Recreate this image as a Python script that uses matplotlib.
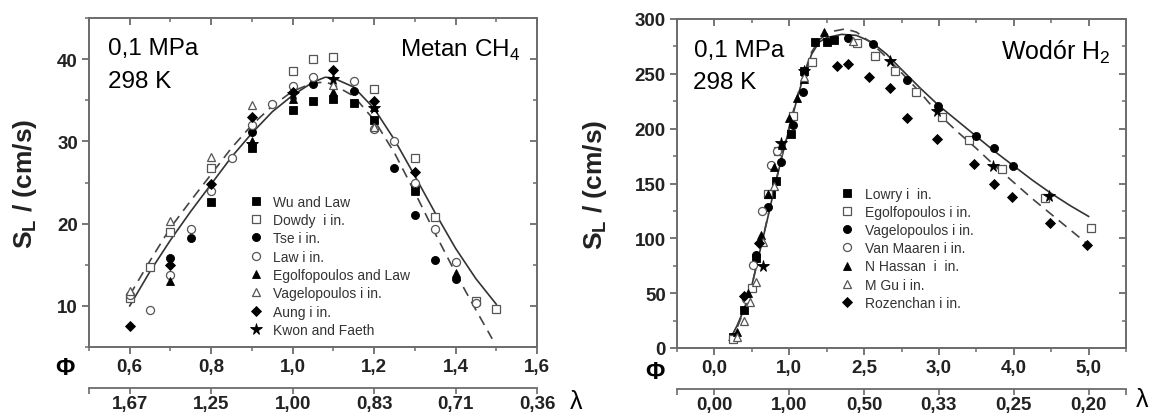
import matplotlib
matplotlib.use("Agg")
import matplotlib.pyplot as plt
from matplotlib.ticker import MultipleLocator

plt.rcParams["font.family"] = "Liberation Sans"
plt.rcParams["mathtext.fontset"] = "custom"
plt.rcParams["mathtext.rm"] = "Liberation Sans"
plt.rcParams["mathtext.bf"] = "Liberation Sans:bold"

spine_c = "#6b6b6b"
label_c = "#222222"
open_c = "#555555"

# ---------------- methane (left) ----------------
ch4_wu_phi = [0.8, 0.9, 1.0, 1.05, 1.1, 1.15, 1.2, 1.3]
ch4_wu_sl = [22.6, 29.2, 33.8, 34.9, 35.1, 34.7, 32.6, 24.1]
ch4_dowdy_phi = [0.6, 0.65, 0.7, 0.8, 1.0, 1.05, 1.1, 1.2, 1.3, 1.35, 1.45, 1.5]
ch4_dowdy_sl = [11.0, 14.7, 19.0, 26.8, 38.5, 40.0, 40.2, 36.4, 28.0, 20.8, 10.6, 9.6]
ch4_tse_phi = [0.7, 0.75, 0.9, 1.05, 1.15, 1.25, 1.3, 1.35, 1.4]
ch4_tse_sl = [15.8, 18.3, 31.2, 37.0, 36.1, 26.8, 21.1, 15.6, 13.3]
ch4_law_phi = [0.6, 0.65, 0.7, 0.75, 0.8, 0.85, 0.9, 0.95, 1.0, 1.05, 1.15, 1.2, 1.25, 1.3, 1.35, 1.4, 1.45]
ch4_law_sl = [11.3, 9.5, 13.8, 19.4, 24.0, 28.0, 32.0, 34.6, 36.7, 37.8, 37.3, 31.5, 30.0, 24.9, 19.3, 15.3, 10.4]
ch4_egolf_phi = [0.7, 0.9, 1.0, 1.1, 1.2, 1.3, 1.4]
ch4_egolf_sl = [13.0, 30.0, 35.1, 36.0, 34.2, 24.0, 14.0]
ch4_vagel_phi = [0.6, 0.7, 0.8, 0.9, 1.1, 1.2]
ch4_vagel_sl = [11.8, 20.3, 28.1, 34.4, 36.8, 31.7]
ch4_aung_phi = [0.6, 0.7, 0.8, 0.9, 1.0, 1.1, 1.2, 1.3]
ch4_aung_sl = [7.6, 15.0, 24.8, 33.0, 36.0, 38.7, 34.9, 26.3]
ch4_kwon_phi = [0.9, 1.0, 1.1, 1.2]
ch4_kwon_sl = [29.7, 35.8, 37.6, 34.0]

ch4_solid_phi = [0.6, 0.65, 0.7, 0.75, 0.8, 0.85, 0.9, 0.95, 1.0, 1.05, 1.08, 1.1, 1.15, 1.2,
                 1.25, 1.3, 1.35, 1.4, 1.45, 1.5]
ch4_solid_sl = [10.0, 14.2, 18.0, 21.5, 24.8, 28.1, 31.0, 33.6, 35.6, 37.2, 37.8, 37.7, 36.6, 34.0,
                30.2, 25.8, 21.3, 17.0, 13.3, 10.2]
ch4_dash_phi = [0.6, 0.65, 0.7, 0.75, 0.8, 0.85, 0.9, 0.95, 1.0, 1.05, 1.08, 1.1, 1.15, 1.2,
                1.25, 1.3, 1.35, 1.4, 1.45, 1.49]
ch4_dash_sl = [11.3, 15.5, 19.5, 22.8, 26.0, 29.2, 32.0, 34.3, 36.1, 37.1, 37.2, 36.9, 35.5, 32.6,
               28.6, 23.8, 18.8, 14.0, 9.5, 6.0]

ch4_phi_ticks = [0.6, 0.8, 1.0, 1.2, 1.4, 1.6]
ch4_phi_labels = ["0,6", "0,8", "1,0", "1,2", "1,4", "1,6"]
ch4_lam_ticks = [0.5, 0.6, 0.8, 1.0, 1.2, 1.4, 1.6]
ch4_lam_labels = ["", "1,67", "1,25", "1,00", "0,83", "0,71", "0,36"]
ch4_y_ticks = [10, 20, 30, 40]

# ---------------- hydrogen (right) ----------------
h2_lowry_phi = [0.25, 0.4, 0.55, 0.75, 0.82, 1.02, 1.2, 1.35, 1.5, 1.6]
h2_lowry_sl = [10, 35, 82, 140, 152, 195, 253, 279, 279, 281]
h2_egolf_phi = [0.25, 0.5, 0.72, 0.85, 1.05, 1.3, 1.9, 2.14, 2.41, 2.69, 3.04, 3.4, 3.84, 4.42, 5.03]
h2_egolf_sl = [8, 55, 140, 180, 212, 261, 278, 266, 253, 233, 211, 190, 163, 137, 109]
h2_vagel_phi = [0.55, 0.72, 0.89, 1.05, 1.18, 1.78, 2.12, 2.58, 2.99, 3.49, 3.74, 3.99]
h2_vagel_sl = [85, 129, 170, 203, 233, 283, 277, 244, 221, 193, 182, 166]
h2_maaren_phi = [0.42, 0.51, 0.63, 0.76, 0.84]
h2_maaren_sl = [45, 76, 125, 167, 180]
h2_hassan_phi = [0.3, 0.45, 0.62, 0.72, 0.8, 0.9, 1.0, 1.1, 1.2, 1.47]
h2_hassan_sl = [15, 50, 103, 140, 165, 185, 210, 228, 245, 288]
h2_gu_phi = [0.3, 0.4, 0.48, 0.55, 0.65, 0.8, 1.2, 1.85]
h2_gu_sl = [10, 25, 42, 60, 97, 148, 247, 280]
h2_rozen_phi = [0.4, 0.6, 1.64, 1.79, 2.07, 2.34, 2.57, 2.98, 3.47, 3.73, 3.97, 4.48, 4.98]
h2_rozen_sl = [47, 96, 257, 259, 247, 237, 210, 191, 168, 150, 138, 114, 94]
h2_star_phi = [0.65, 0.89, 1.2, 2.34, 2.97, 3.72, 4.47]
h2_star_sl = [75, 187, 253, 262, 216, 166, 139]

h2_solid_phi = [0.2, 0.3, 0.4, 0.5, 0.6, 0.7, 0.8, 0.9, 1.0, 1.1, 1.2, 1.3, 1.4, 1.5, 1.7, 1.9,
                2.1, 2.3, 2.5, 2.75, 3.0, 3.25, 3.5, 3.75, 4.0, 4.25, 4.5, 4.75, 5.0]
h2_solid_sl = [7, 20, 36, 57, 86, 115, 145, 174, 200, 226, 250, 268, 279, 283, 286, 285,
               279, 268, 254, 237, 221, 207, 193, 179, 166, 153, 141, 130, 120]
h2_dash_phi = [0.2, 0.3, 0.4, 0.5, 0.6, 0.7, 0.8, 0.9, 1.0, 1.1, 1.2, 1.3, 1.4, 1.5, 1.6, 1.75,
               1.9, 2.1, 2.3, 2.5, 2.75, 3.0, 3.25, 3.5, 3.75, 4.0, 4.25, 4.5, 4.75, 5.0]
h2_dash_sl = [6, 18, 35, 57, 86, 116, 146, 175, 202, 228, 251, 270, 281, 286, 289, 291,
              288, 278, 265, 251, 233, 213, 197, 182, 166, 151, 136, 122, 108, 94]

h2_phi_ticks = [0, 1, 2, 3, 4, 5]
h2_phi_labels = ["0,0", "1,0", "2,5", "3,0", "4,0", "5,0"]
h2_lam_ticks = [-0.5, 0, 1, 2, 3, 4, 5, 5.5]
h2_lam_labels = ["", "0,00", "1,00", "0,50", "0,33", "0,25", "0,20", ""]
h2_y_ticks = [0, 50, 100, 150, 200, 250, 300]


def draw_points(ax, phi, sl, marker, filled, label=None, size=5.8):
    if filled:
        ax.plot(phi, sl, ls="none", marker=marker, ms=size, mfc="black", mec="black",
                mew=0.6, label=label, zorder=3)
    else:
        ax.plot(phi, sl, ls="none", marker=marker, ms=size, mfc="white", mec=open_c,
                mew=0.9, label=label, zorder=3)


def style_axes(ax, xlim, ylim, xticks, xlabels, yticks, xminor, yminor, lam_ticks, lam_labels):
    ax.set_xlim(*xlim)
    ax.set_ylim(*ylim)
    for sp in ax.spines.values():
        sp.set_color(spine_c)
        sp.set_linewidth(1.4)
    ax.set_xticks(xticks, labels=xlabels)
    ax.set_yticks(yticks)
    ax.xaxis.set_minor_locator(MultipleLocator(xminor))
    ax.yaxis.set_minor_locator(MultipleLocator(yminor))
    ax.tick_params(which="major", direction="out", length=5, width=1.3, color=spine_c,
                   labelsize=13.5, labelcolor=label_c, pad=3)
    ax.tick_params(which="minor", direction="out", length=3, width=1.1, color=spine_c)
    for lab in ax.get_xticklabels() + ax.get_yticklabels():
        lab.set_fontweight("bold")

    # inward ticks on top and right
    top = ax.secondary_xaxis("top")
    top.set_xticks(xticks)
    top.xaxis.set_minor_locator(MultipleLocator(xminor))
    top.tick_params(which="major", direction="in", length=5, width=1.3, color=spine_c, labeltop=False)
    top.tick_params(which="minor", direction="in", length=3, width=1.1, color=spine_c)
    top.spines["top"].set_visible(False)
    right = ax.secondary_yaxis("right")
    right.set_yticks(yticks)
    right.yaxis.set_minor_locator(MultipleLocator(yminor))
    right.tick_params(which="major", direction="in", length=5, width=1.3, color=spine_c, labelright=False)
    right.tick_params(which="minor", direction="in", length=3, width=1.1, color=spine_c)
    right.spines["right"].set_visible(False)

    # lambda axis below
    lam = ax.secondary_xaxis(-0.125)
    lam.set_xticks(lam_ticks, labels=lam_labels)
    lam.tick_params(direction="out", length=4, width=1.2, color=spine_c, labelsize=13.5,
                    labelcolor=label_c, pad=1)
    lam.spines["bottom"].set_color(spine_c)
    lam.spines["bottom"].set_linewidth(1.3)
    for lab in lam.get_xticklabels():
        lab.set_fontweight("bold")

    ax.set_ylabel(r"S$_\mathbf{L}$ / (cm/s)", fontsize=19, fontweight="bold", color=label_c)


fig = plt.figure(figsize=(11.51, 4.14), dpi=100)
ax1 = fig.add_axes([89 / 1151, 1 - 348 / 414, 448 / 1151, 329 / 414])
ax2 = fig.add_axes([677 / 1151, 1 - 349 / 414, 449 / 1151, 329 / 414])

# left panel
ax1.plot(ch4_solid_phi, ch4_solid_sl, color="#333333", lw=1.2, zorder=2)
ax1.plot(ch4_dash_phi, ch4_dash_sl, color="#444444", lw=1.2, ls=(0, (6, 4)), zorder=2)
draw_points(ax1, ch4_wu_phi, ch4_wu_sl, "s", True, "Wu and Law")
draw_points(ax1, ch4_dowdy_phi, ch4_dowdy_sl, "s", False, "Dowdy  i in.")
draw_points(ax1, ch4_tse_phi, ch4_tse_sl, "o", True, "Tse i in.")
draw_points(ax1, ch4_law_phi, ch4_law_sl, "o", False, "Law i in.")
draw_points(ax1, ch4_egolf_phi, ch4_egolf_sl, "^", True, "Egolfopoulos and Law")
draw_points(ax1, ch4_vagel_phi, ch4_vagel_sl, "^", False, "Vagelopoulos i in.")
draw_points(ax1, ch4_aung_phi, ch4_aung_sl, "D", True, "Aung i in.", size=5.2)
draw_points(ax1, ch4_kwon_phi, ch4_kwon_sl, "*", True, "Kwon and Faeth", size=8.5)
style_axes(ax1, (0.5, 1.6), (5, 45), ch4_phi_ticks, ch4_phi_labels, ch4_y_ticks, 0.1, 5,
           ch4_lam_ticks, ch4_lam_labels)
ax1.yaxis.set_label_coords(-0.112, 0.5)
leg1 = ax1.legend(loc="upper left", bbox_to_anchor=(0.36, 0.463), frameon=False, fontsize=10,
                  handlelength=0.8, handletextpad=0.85, labelspacing=0.31, borderpad=0,
                  borderaxespad=0)
for t in leg1.get_texts():
    t.set_color("#333333")
ax1.text(0.043, 0.91, "0,1 MPa", transform=ax1.transAxes, fontsize=17.5, va="center", ha="left")
ax1.text(0.043, 0.81, "298 K", transform=ax1.transAxes, fontsize=17.5, va="center", ha="left")
ax1.text(0.962, 0.905, r"Metan CH$_4$", transform=ax1.transAxes, fontsize=17.5, va="center", ha="right")

# right panel
ax2.plot(h2_solid_phi, h2_solid_sl, color="#333333", lw=1.2, zorder=2)
ax2.plot(h2_dash_phi, h2_dash_sl, color="#444444", lw=1.2, ls=(0, (6, 4)), zorder=2)
draw_points(ax2, h2_lowry_phi, h2_lowry_sl, "s", True, "Lowry i  in.")
draw_points(ax2, h2_egolf_phi, h2_egolf_sl, "s", False, "Egolfopoulos i in.")
draw_points(ax2, h2_vagel_phi, h2_vagel_sl, "o", True, "Vagelopoulos i in.")
draw_points(ax2, h2_maaren_phi, h2_maaren_sl, "o", False, "Van Maaren i in.")
draw_points(ax2, h2_hassan_phi, h2_hassan_sl, "^", True, "N Hassan  i  in.")
draw_points(ax2, h2_gu_phi, h2_gu_sl, "^", False, "M Gu i in.")
draw_points(ax2, h2_rozen_phi, h2_rozen_sl, "D", True, "Rozenchan i in.", size=5.2)
draw_points(ax2, h2_star_phi, h2_star_sl, "*", True, None, size=8.5)
style_axes(ax2, (-0.5, 5.5), (0, 300), h2_phi_ticks, h2_phi_labels, h2_y_ticks, 0.5, 25,
           h2_lam_ticks, h2_lam_labels)
ax2.yaxis.set_label_coords(-0.152, 0.5)
leg2 = ax2.legend(loc="upper left", bbox_to_anchor=(0.367, 0.49), frameon=False, fontsize=10,
                  handlelength=0.8, handletextpad=0.85, labelspacing=0.3, borderpad=0,
                  borderaxespad=0)
for t in leg2.get_texts():
    t.set_color("#333333")
ax2.text(0.037, 0.905, "0,1 MPa", transform=ax2.transAxes, fontsize=17.5, va="center", ha="left")
ax2.text(0.035, 0.81, "298 K", transform=ax2.transAxes, fontsize=17.5, va="center", ha="left")
ax2.text(0.965, 0.90, r"Wodór H$_2$", transform=ax2.transAxes, fontsize=18, va="center", ha="right")

# axis symbols
fig.text(65 / 1151, 1 - 369 / 414, "Φ", fontsize=17, fontweight="bold", ha="center", va="center", color="black")
fig.text(655 / 1151, 1 - 373 / 414, "Φ", fontsize=17, fontweight="bold", ha="center", va="center", color="black")
fig.text(576 / 1151, 1 - 402 / 414, "λ", fontsize=18, ha="center", va="center", color="black")
fig.text(1142 / 1151, 1 - 400 / 414, "λ", fontsize=18, ha="center", va="center", color="black")

fig.savefig("out.png", dpi=100)
